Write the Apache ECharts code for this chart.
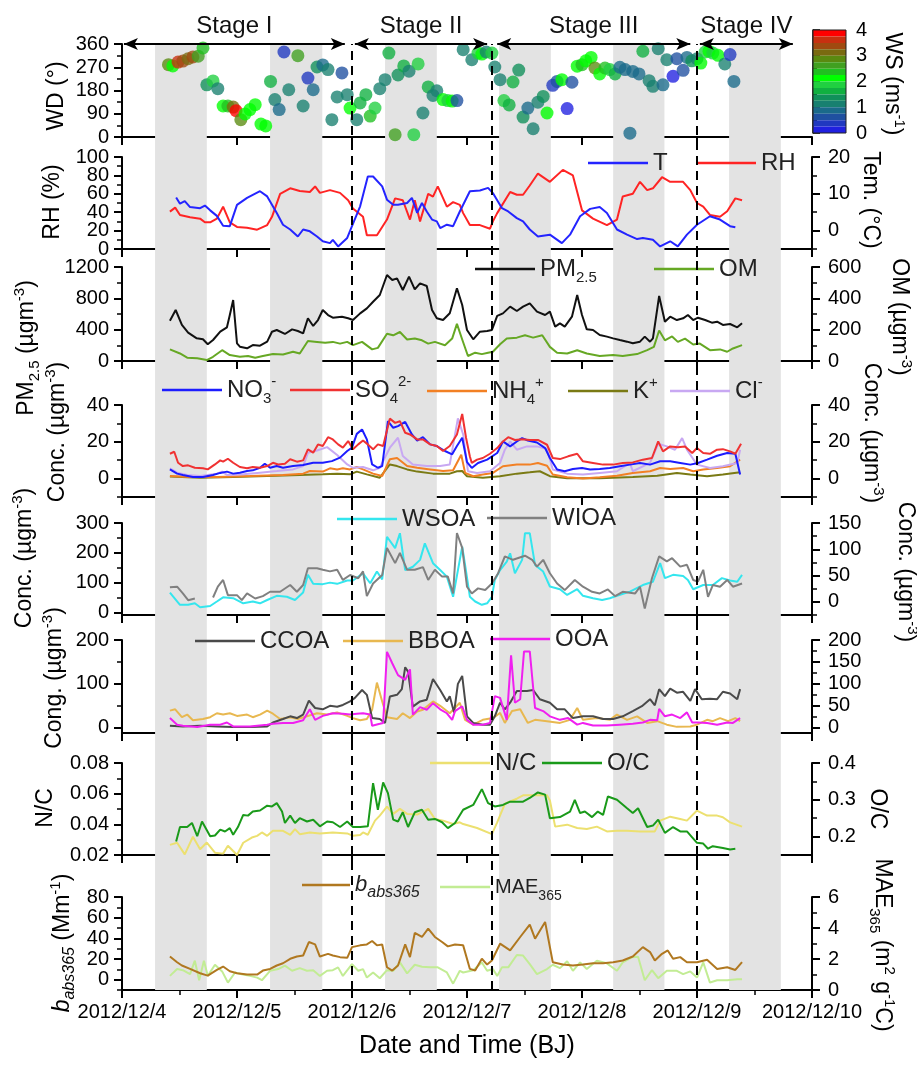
<!DOCTYPE html>
<html>
<head>
<meta charset="UTF-8">
<title>Stage time series</title>
<script src="https://cdn.jsdelivr.net/npm/echarts@6/dist/echarts.min.js"></script>
<style>
html, body { margin: 0; padding: 0; background: #fff; }
#chart { width: 917px; height: 1067px; }
</style>
</head>
<body>
<div id="chart"></div>
<script type="text/javascript">
// time is in hours since 2012/12/4 00:00 (BJ)
var windData = [ // [hour, WD, WS]
  [9.7,280,3.0],[10.6,275,2.1],[11.7,290,3.6],[12.7,294,3.4],[13.8,303,3.1],[14.8,310,3.4],[15.9,313,2.6],[16.9,345,2.4],
  [17.7,202,1.4],[19.0,217,1.8],[20.0,187,1.1],[21.1,120,2.1],[22.1,120,2.4],[23.2,116,3.1],[23.8,102,3.9],[24.8,67,3.0],
  [25.7,89,2.1],[26.7,106,2.1],[27.8,125,2.1],[29.0,50,2.1],[30.0,43,2.1],[31.0,215,1.6],[31.9,145,1.1],[32.8,106,0.9],
  [33.8,329,0.4],[34.8,183,1.1],[36.7,315,2.6],[37.8,120,1.1],[38.8,228,0.4],[39.9,183,0.9],[40.7,271,1.4],[41.9,279,0.9],
  [43.0,261,1.1],[43.8,67,1.1],[44.9,155,1.1],[45.9,248,0.6],[47.0,164,1.1],[47.6,112,2.1],[49.0,67,1.1],[49.7,132,1.6],
  [50.9,164,1.6],[51.8,81,2.4],[52.8,112,1.8],[53.8,187,1.1],[54.9,222,1.1],[55.7,325,1.6],[57.0,9,2.6],[57.6,240,1.4],
  [58.8,275,1.6],[59.9,255,1.1],[60.9,9,1.8],[61.8,283,1.8],[62.8,93,1.1],[63.9,194,1.6],[64.9,161,1.1],[65.7,179,1.1],
  [67.0,145,2.1],[68.0,141,1.8],[68.9,139,2.1],[69.9,141,0.6],[71.2,338,1.1],[73.0,299,1.1],[74.3,325,1.8],[75.1,321,2.1],
  [76.0,329,1.1],[77.2,325,1.8],[77.8,271,1.1],[78.9,222,1.1],[79.7,141,1.8],[80.8,124,1.6],[81.6,213,1.6],[82.8,259,1.4],
  [83.7,77,1.4],[84.7,112,0.9],[85.8,32,1.1],[86.8,135,1.1],[87.9,157,1.4],[88.7,93,2.1],[89.9,200,0.4],[90.8,215,0.6],
  [91.8,222,2.1],[92.9,110,0.1],[93.9,212,0.6],[95.0,274,2.1],[96.0,280,2.4],[96.8,295,2.1],[97.9,308,2.1],[98.7,267,2.9],
  [99.7,244,2.1],[100.8,267,2.4],[101.8,261,1.8],[102.9,244,1.6],[103.9,270,0.9],[105.0,261,0.9],[106.0,15,0.9],[106.6,254,0.9],
  [107.9,244,0.9],[108.7,332,1.6],[110.0,218,1.1],[110.8,196,1.1],[111.9,342,1.1],[112.9,202,0.9],[113.7,299,1.1],[115.0,235,0.1],
  [115.8,303,0.6],[117.1,258,0.6],[117.9,308,0.9],[118.9,295,1.4],[120.0,303,1.1],[120.8,286,2.1],[121.7,329,1.8],[122.5,332,2.1],
  [123.3,325,1.8],[124.4,316,2.1],[125.8,283,1.1],[126.9,319,0.4],[127.7,215,0.9]
];
var rh = [[10.0,40.6],[11.1,45],[12.1,37],[14.2,34.5],[16.3,33],[17.3,29],[18.4,29],[19.8,33],[21.1,46],[22.5,29],[24.0,24],[26.1,23],
  [28.2,21],[30.3,26],[31.3,35],[33.0,60],[35.1,66],[37.1,63],[39.2,62],[40.3,68],[41.3,61],[43.4,64],[45.5,61],[47.2,53],[48.2,44],
  [50.3,35],[51.1,15],[53.2,15],[55.3,32],[57.0,55],[58.6,53],[60.1,32],[61.1,53],[62.2,30],[63.9,60],[64.9,57],[65.9,68],[67.8,46],
  [69.1,51],[70.5,48],[71.2,39],[72.6,26],[74.7,26],[76.8,22],[77.4,30],[78.3,39],[81.0,62],[82.4,59],[83.7,59],[85.1,69],[86.8,82],
  [89.3,73],[92.0,86],[94.1,80],[96.0,42],[98.3,33],[101.2,26],[103.3,32],[104.5,57],[106.6,60],[108.1,73],[109.6,64],[110.8,66],
  [112.7,78],[114.4,73],[117.1,73],[118.6,64],[120.0,50],[121.3,46],[122.7,37],[124.8,35],[126.3,41],[128.0,55],[129.4,53]];
var temp = [[11.3,9.0],[12.1,7.3],[13.1,8],[14.2,6.4],[16.3,6.1],[17.3,6.8],[18.4,5.5],[19.8,4],[21.1,1.3],[22.5,1.2],[24.0,7],[26.1,8.9],
  [28.8,10.7],[30.3,9.3],[32.3,4.8],[33.6,1.6],[35.1,0.3],[36.7,-1.6],[37.8,0.3],[39.2,-0.2],[40.7,-1.6],[41.9,-2.9],[43.4,-3.4],[44.0,-2.5],
  [45.1,-4.3],[47.0,-2],[48.0,1.2],[49.7,6.6],[51.3,14.7],[52.4,14.7],[54.3,12],[55.3,8.4],[56.6,7],[57.6,7],[59.5,7.5],[60.5,8.9],
  [61.6,4.8],[62.6,7.5],[63.6,5.2],[64.7,3],[65.7,2.5],[66.4,0.7],[67.8,1.6],[69.1,1.2],[70.5,5.2],[72.6,10.7],[74.7,10.9],[76.4,11.6],
  [77.4,10.2],[79.3,6.1],[80.6,5.2],[82.4,3.4],[83.7,2.5],[85.1,0.3],[86.8,-1.6],[89.3,-1.1],[91.8,-3.4],[93.5,-1.1],[95.6,3.9],[97.7,5.9],
  [99.7,6.4],[101.2,4.8],[103.3,0.3],[105.4,-1.1],[107.5,-2.3],[108.7,-2],[110.8,-2.5],[112.3,-4.3],[114.4,-2.9],[116.0,-4.3],[117.9,-1.1],
  [120.0,1.6],[122.7,3.9],[124.8,3],[126.9,1.2],[128.0,0.9]];
var pm25 = [[10.0,515],[11.2,651],[12.5,460],[13.8,362],[15.6,289],[16.9,277],[17.9,213],[19.0,268],[20.5,374],[21.9,430],[22.5,587],
  [23.2,779],[24.0,225],[24.6,183],[26.1,162],[27.3,204],[28.8,196],[30.3,247],[31.3,374],[32.3,396],[34.0,345],[35.5,404],[36.7,383],
  [37.8,353],[38.8,545],[39.9,447],[40.9,523],[41.9,651],[43.0,587],[44.0,553],[45.9,566],[47.2,545],[48.2,523],[49.7,608],[51.1,672],
  [52.4,757],[53.8,843],[55.3,1098],[56.4,1034],[57.4,1055],[58.6,906],[59.9,1077],[61.1,915],[62.2,991],[63.6,957],[64.7,651],[65.7,545],
  [67.0,523],[68.4,610],[69.9,928],[71.0,715],[72.0,396],[73.3,277],[74.7,374],[76.2,383],[77.2,396],[78.3,575],[79.5,608],[81.0,694],
  [82.4,638],[83.7,694],[85.1,736],[86.6,630],[88.3,587],[89.3,630],[90.4,438],[91.4,481],[92.4,438],[93.9,566],[95.0,843],[96.0,587],
  [97.0,404],[98.3,396],[99.7,332],[101.2,311],[102.5,289],[103.9,268],[105.4,247],[106.6,226],[108.1,247],[109.1,311],[110.2,247],
  [110.8,289],[112.1,830],[113.3,502],[114.4,566],[115.8,523],[117.1,545],[118.1,587],[119.2,523],[120.2,553],[121.7,523],[123.1,489],
  [124.2,502],[125.4,460],[126.9,472],[128.4,430],[129.4,481]];
var om = [[10.0,74],[12.1,48],[13.6,21],[15.7,17],[17.7,6],[19.0,27],[20.9,69],[22.5,38],[24.6,27],[26.3,32],[27.8,21],[29.4,32],[31.5,44],
  [33.6,42],[35.7,59],[37.1,48],[38.8,128],[40.7,122],[42.4,116],[44.0,122],[45.5,111],[47.0,122],[48.2,101],[50.1,122],[52.2,74],[53.4,84],
  [55.3,174],[56.6,164],[58.0,185],[59.5,137],[61.1,143],[62.6,132],[63.9,111],[65.3,122],[67.4,101],[68.9,143],[69.9,237],[71.0,137],
  [72.2,32],[73.7,53],[75.1,44],[76.4,53],[77.4,59],[78.9,107],[80.3,143],[82.4,149],[84.1,164],[85.8,149],[87.7,164],[89.3,90],[90.8,53],
  [92.9,48],[95.0,69],[97.0,48],[99.7,32],[102.5,38],[104.5,32],[107.5,44],[109.6,69],[111.0,90],[112.1,195],[113.3,132],[114.8,157],
  [116.0,122],[117.5,143],[119.2,105],[120.6,111],[122.7,69],[124.8,74],[126.3,59],[127.5,80],[129.4,101]];
var no3 = [[10.0,5],[11.5,2.7],[12.7,2],[14.8,0.9],[16.9,0.9],[19.0,2],[20.5,3.1],[21.9,3.8],[23.2,2.7],[24.6,3.2],[26.1,4.1],[27.3,4.5],
  [28.8,5.9],[29.8,8.1],[30.9,5.9],[32.3,6.8],[33.6,5.9],[35.7,6.8],[37.8,7.4],[39.9,8.6],[41.9,8.6],[43.8,9.5],[45.5,11.4],[47.0,15],
  [48.0,16.8],[49.0,24.3],[50.1,26.7],[51.1,21.3],[52.2,7.7],[53.4,5.9],[54.3,6.8],[55.5,31.2],[56.6,27.6],[57.6,28.5],[59.1,30.8],
  [60.5,24],[61.6,20.7],[62.8,22.5],[64.3,18.6],[65.7,17.7],[67.4,15],[68.9,13.2],[69.9,17.7],[71.0,22.2],[72.0,9],[73.0,5.8],[74.3,8.5],
  [76.2,10.3],[78.3,13.9],[79.5,20.2],[81.0,17.5],[82.4,20.2],[83.5,22],[84.7,20.7],[86.6,19.6],[88.3,16.6],[89.3,11.2],[90.8,4.9],
  [92.4,4],[94.1,5.2],[96.0,5.8],[97.7,4.9],[99.7,5.2],[101.8,5.8],[103.9,6.7],[106.0,7.6],[108.1,8.5],[110.2,7.6],[112.3,9.4],[114.4,9.4],
  [116.5,8.5],[118.6,7.6],[120.2,8.5],[122.1,10.3],[124.2,12.4],[126.3,13.9],[128.0,13.5],[129.0,2.2]];
var so4 = [[10.0,13.5],[10.9,14.6],[11.7,8.6],[12.7,6.8],[13.8,7.2],[15.2,5.9],[16.9,5.6],[17.9,5],[19.4,7.7],[20.5,9.9],[21.1,9.2],
  [22.1,10.8],[23.2,8.6],[24.6,6.3],[26.1,5.6],[27.3,6.3],[28.8,5.9],[30.3,6.8],[31.5,8.6],[32.6,7.7],[34.0,8.1],[35.1,10.5],[36.5,9.2],
  [37.8,9.9],[38.8,15.9],[39.9,14.1],[40.9,18.6],[41.9,17.7],[43.0,22.5],[44.0,21.3],[45.1,18.6],[46.1,16.8],[47.2,20.4],[48.2,15.9],
  [49.3,18.6],[50.3,20.7],[51.3,18.6],[52.4,15.9],[53.4,18.6],[54.5,17.7],[55.9,32.6],[57.0,30.3],[58.0,31.2],[59.1,24.9],[60.1,24],
  [61.6,21.3],[62.8,21.3],[64.3,18.6],[65.7,17.7],[67.0,15],[68.4,17.7],[69.9,24],[71.0,35.1],[71.8,22.2],[72.6,12],[73.0,8.5],[74.1,10.3],
  [75.3,11.2],[76.8,13.5],[78.3,16.6],[79.5,20.2],[80.6,22.5],[82.0,21],[83.5,21.4],[85.1,21],[86.8,21],[88.7,18.4],[89.9,11.2],[91.4,10.6],
  [93.1,12.1],[95.0,13.5],[96.2,9.4],[98.3,8.5],[100.4,7.6],[102.5,7.6],[104.5,8.5],[106.6,8.8],[108.7,10.3],[110.6,11.2],[111.9,20.2],
  [112.9,14.8],[114.4,17.5],[116.0,17.1],[117.5,17.5],[119.0,13.9],[120.0,16.6],[121.3,13.9],[122.7,13.5],[124.2,15.7],[125.4,16],
  [126.9,14.8],[128.0,13.5],[129.2,18.9]];
var nh4 = [[10.0,1.4],[14.2,0.9],[19.8,0.9],[26.7,1.4],[33.6,2],[37.8,2.7],[39.2,4.1],[41.9,3.8],[43.4,5.6],[44.9,5],[46.1,5.6],[47.6,5],
  [49.0,6.3],[50.3,5],[52.4,2.7],[54.3,1.4],[55.9,10.5],[57.4,11.2],[59.5,6.8],[61.6,5.9],[64.3,5],[67.0,4.1],[69.1,4.5],[70.8,13],
  [71.6,3.1],[73.3,1.3],[75.3,2.2],[77.4,3.1],[79.5,6.7],[82.4,7.6],[85.1,7.6],[86.8,8.5],[88.7,7],[89.9,2.2],[92.9,0.7],[96.2,0],
  [99.7,0.7],[103.3,1.6],[106.6,3.1],[110.2,4],[112.3,5.8],[114.4,5.2],[117.1,5.8],[119.2,4],[121.3,4.9],[124.2,5.8],[126.9,6.7],[129.0,10.3]];
var kIon = [[10.0,1.1],[16.3,0.5],[23.2,0.9],[30.3,1.4],[37.1,2],[41.9,2.3],[44.9,2.7],[47.6,2.3],[49.0,3.8],[51.1,2.3],[53.8,0.5],
  [55.9,7.7],[57.4,6.8],[59.5,5],[61.6,3.8],[64.9,2.7],[68.4,2.7],[69.9,4],[71.0,4.1],[72.0,1.3],[75.3,0.4],[78.9,1.3],[82.4,2.7],
  [85.1,3.4],[87.2,4],[89.3,1.3],[92.9,0.2],[99.7,0.2],[106.6,0.9],[111.7,1.6],[115.8,3.1],[118.6,2.2],[122.1,1.3],[125.4,2.2],[129.0,3.4]];
var cl = [[10.0,5.6],[11.5,3.2],[13.6,2],[16.3,1.4],[19.8,2.7],[20.9,3.8],[21.9,2],[25.3,2.3],[28.8,3.2],[32.3,4.1],[35.7,5],[37.8,6.8],
  [38.8,14],[40.7,15.3],[42.8,17.1],[44.9,12.8],[47.0,7.7],[48.2,5.9],[50.3,6.3],[52.4,4.5],[53.8,5.9],[55.9,16.8],[57.6,22.2],[58.6,12.3],
  [60.7,7.7],[63.6,6.8],[66.4,6.8],[68.4,7.7],[70.1,32.7],[71.2,24],[72.2,4],[74.1,3.1],[76.8,4],[78.9,8.5],[79.9,15.7],[81.0,20.2],
  [82.4,15.7],[84.5,17.5],[86.6,17.5],[88.7,16],[89.9,4.9],[92.9,2.7],[96.2,2.2],[99.7,3.1],[103.3,4],[106.0,8.5],[106.6,4],[110.2,8.5],
  [111.9,18.9],[113.7,17.5],[115.4,15.7],[116.9,22],[117.9,15.7],[120.0,7.6],[122.7,5.8],[125.4,6.7],[128.4,8.5],[129.0,15.7]];
var wsoa = [[10.0,68],[12.1,27],[13.8,27],[15.2,32],[16.3,19],[18.4,23],[19.8,38],[21.1,52],[23.2,49],[25.3,32],[27.3,38],[28.8,32],
  [30.3,43],[32.3,57],[34.4,54],[36.1,43],[37.8,68],[38.8,127],[39.9,97],[41.9,96],[43.4,101],[44.9,97],[47.0,108],[48.2,108],[50.3,132],
  [51.8,99],[53.2,138],[54.3,112],[55.3,254],[57.0,216],[58.0,266],[59.1,143],[60.7,154],[62.2,177],[63.2,232],[64.9,166],[66.4,143],
  [67.8,121],[69.1,54],[71.0,221],[71.6,160],[72.6,54],[73.7,38],[75.1,27],[76.2,32],[77.2,54],[77.8,110],[78.9,143],[80.3,171],
  [81.0,199],[82.0,132],[83.5,177],[84.1,266],[85.1,266],[86.2,160],[87.9,138],[89.3,88],[91.4,79],[92.9,60],[95.0,79],[96.2,57],
  [98.3,49],[100.2,43],[101.8,49],[103.3,57],[106.0,71],[108.7,93],[110.8,104],[112.3,166],[113.3,116],[115.0,127],[117.1,123],
  [118.1,110],[119.2,79],[121.3,93],[123.3,93],[125.2,116],[126.9,108],[128.4,104],[129.4,127]];
var wioa = [[10.0,27.6],[11.5,28.8],[12.7,16],[13.8,3.2],[15.2,6.4],[16.0,null],[19.0,8.3],[20.0,28.8],[21.1,41.7],[22.1,12.8],[24.0,12.8],
  [25.0,3.2],[26.1,16],[27.8,6.4],[29.4,10.9],[30.9,19.2],[33.0,19.2],[35.1,32],[36.5,19.2],[37.8,32],[38.8,64],[40.7,64],[41.9,61],
  [43.4,58],[44.9,61],[46.1,41.7],[47.6,51],[49.3,45],[50.3,58],[51.1,10.9],[52.4,35],[54.3,51],[55.3,102.6],[57.0,73.7],[58.0,93],
  [59.5,61],[61.1,61],[62.8,66],[63.9,41.7],[65.3,61],[66.8,48],[68.0,48],[69.1,16],[69.9,131],[71.0,102.6],[72.0,28.8],[73.0,16],
  [74.3,25.6],[75.8,22.4],[77.2,35],[78.5,54.5],[79.9,86.5],[81.6,80],[84.1,87.8],[85.6,80],[86.6,67],[87.9,80],[89.3,54.5],[90.8,35],
  [92.4,22.4],[94.5,41.7],[96.2,28.8],[98.1,19.2],[99.7,16],[101.4,23.7],[102.9,10.9],[104.5,19.2],[107.1,16],[108.1,28.8],[109.1,-12.8],
  [110.6,45],[112.1,86.5],[113.7,77],[114.8,83],[116.5,67],[117.9,70.5],[119.2,41.7],[120.2,38.5],[121.3,61],[122.3,9.6],[123.3,32],
  [124.8,28.8],[126.3,41.7],[127.5,28.8],[129.4,35]];
var ccoa = [[10.0,4.5],[12.7,3],[16.3,4.5],[19.8,3],[23.2,1.5],[26.7,1.5],[30.3,3],[31.5,12],[33.6,20],[35.1,26],[36.5,22],[37.8,30],
  [39.0,62],[40.3,45],[41.9,42],[43.4,50],[44.9,48],[46.1,52],[47.6,60],[48.6,68],[50.1,86],[51.1,75],[52.2,22],[53.8,20],[54.9,11],
  [55.9,71],[57.4,75],[58.4,88],[59.1,138],[59.7,128],[60.7,48],[62.2,60],[63.6,64],[64.9,111],[66.4,86],[67.8,60],[68.4,72],[69.3,35],
  [70.1,100],[71.0,118],[72.0,26],[73.3,11],[75.3,7],[76.8,7],[77.8,26],[78.9,57],[79.9,42],[81.0,57],[82.4,84],[84.5,84],[85.8,86],
  [87.2,65],[89.3,57],[90.8,42],[92.4,42],[94.1,22],[96.2,26],[98.3,26],[100.4,20],[102.5,20],[104.5,26],[106.6,38],[108.5,49],
  [110.2,65],[111.2,51],[112.1,88],[113.3,72],[114.4,89],[115.8,80],[117.1,82],[118.6,61],[119.6,88],[121.0,65],[122.7,66],[124.2,65],
  [125.4,82],[126.9,78],[128.4,65],[129.0,88]];
var bboa = [[10.0,39],[11.1,42],[12.5,24],[13.6,30],[14.8,17],[16.9,20],[18.4,24],[19.8,33],[21.1,30],[22.5,33],[24.0,27],[26.1,30],
  [27.3,24],[28.8,30],[30.3,39],[31.5,32],[33.0,20],[35.1,24],[36.7,20],[38.6,26],[40.7,33],[42.8,30],[44.9,35],[47.0,27],[48.2,22],
  [49.7,17],[51.1,20],[52.2,41],[53.2,103],[54.3,60],[55.3,24],[57.4,20],[58.6,33],[60.1,22],[61.6,37],[62.8,41],[64.9,60],[66.4,50],
  [68.4,33],[70.5,57],[71.6,18],[73.3,7],[75.3,18],[77.4,22],[78.9,34],[79.9,11],[81.4,38],[83.1,42],[84.7,11],[86.2,18],[88.7,15],
  [91.4,11],[93.5,18],[95.0,45],[96.2,18],[99.1,22],[101.8,18],[103.3,30],[105.4,18],[107.5,26],[109.6,11],[111.7,15],[113.7,7],
  [115.8,2],[118.6,3],[120.0,7],[122.1,18],[123.3,15],[124.8,22],[126.5,15],[128.0,22],[129.0,15]];
var ooa = [[10.0,22],[11.5,7],[12.7,4.5],[15.7,1.5],[18.4,7],[20.5,7],[21.9,12],[23.2,3],[26.7,3],[30.3,7],[31.5,9],[33.6,11],[35.7,11],
  [37.8,17],[39.2,42],[40.3,18],[41.9,27],[44.0,33],[46.1,32],[47.6,30],[49.0,32],[50.3,33],[51.8,30],[52.2,4.5],[53.8,9],[54.5,11],
  [55.3,173],[56.4,147],[57.6,120],[59.1,109],[60.1,133],[60.7,30],[62.2,47],[63.6,41],[64.9,56],[66.4,42],[67.8,33],[68.9,18],[69.5,38],
  [71.0,49],[72.0,18],[73.3,7],[75.3,7],[76.8,11],[77.8,72],[78.9,68],[80.3,18],[81.2,165],[82.0,57],[83.1,65],[83.9,174],[85.1,174],
  [86.2,45],[87.9,38],[89.3,26],[91.4,18],[93.1,22],[95.0,7],[96.2,11],[98.3,5],[101.2,5],[103.9,7],[106.6,9],[108.7,12],[110.2,18],
  [111.7,17],[112.1,43],[113.3,26],[114.8,30],[116.5,22],[117.9,35],[119.0,12],[120.2,12],[122.1,11],[124.2,7],[126.3,12],[127.5,11],
  [129.0,22]];
var nc = [[10.0,0.0266],[11.5,0.028],[13.1,0.0204],[14.8,0.0319],[16.3,0.0237],[17.7,0.0281],[19.4,0.0215],[21.1,0.0209],[22.1,0.026],
  [23.2,0.0226],[24.0,0.02],[25.3,0.028],[27.1,0.0314],[28.2,0.0325],[29.2,0.0347],[30.3,0.0325],[31.5,0.0358],[33.6,0.0358],[35.1,0.0332],
  [36.1,0.0369],[37.1,0.0336],[39.2,0.0347],[41.3,0.0341],[44.0,0.0347],[47.0,0.0341],[48.2,0.0325],[49.7,0.033],[50.3,0.0347],
  [51.3,0.0332],[52.8,0.0424],[53.8,0.0457],[55.3,0.0516],[56.6,0.0468],[58.0,0.0501],[59.5,0.0468],[61.6,0.0464],[63.9,0.0501],
  [65.3,0.0435],[67.0,0.0424],[69.1,0.0402],[70.5,0.0413],[71.2,0.0402],[74.1,0.0376],[77.2,0.0336],[78.3,0.0413],[79.9,0.0534],
  [82.4,0.0567],[83.7,0.0589],[85.8,0.0589],[88.7,0.0589],[89.3,0.0556],[90.4,0.0385],[92.9,0.0398],[95.0,0.0376],[97.0,0.0369],
  [99.1,0.0385],[101.2,0.0354],[103.3,0.0358],[105.4,0.0358],[108.1,0.0354],[110.2,0.0354],[111.2,0.0354],[112.3,0.0424],[114.4,0.045],
  [116.5,0.0435],[117.9,0.0424],[120.0,0.049],[122.1,0.0457],[124.2,0.0457],[125.4,0.0446],[126.9,0.0413],[129.4,0.0385]];
var oc = [[11.3,0.187],[12.1,0.226],[13.6,0.226],[14.6,0.237],[15.7,0.201],[16.7,0.241],[18.4,0.201],[19.4,0.203],[20.5,0.219],[21.5,0.214],
  [22.5,0.223],[23.2,0.205],[24.2,0.226],[25.3,0.259],[26.3,0.257],[27.3,0.268],[28.8,0.271],[30.3,0.284],[31.3,0.282],[32.3,0.291],
  [33.4,0.268],[34.0,0.237],[35.1,0.257],[36.1,0.237],[37.1,0.25],[38.6,0.241],[39.9,0.246],[41.3,0.228],[42.8,0.241],[44.0,0.239],
  [45.5,0.226],[47.0,0.241],[48.2,0.226],[49.7,0.226],[51.3,0.228],[52.4,0.345],[53.4,0.273],[54.5,0.347],[55.5,0.318],[56.6,0.246],
  [57.6,0.241],[58.6,0.266],[59.7,0.226],[61.1,0.266],[62.6,0.273],[63.9,0.246],[65.3,0.248],[66.8,0.239],[68.0,0.223],[69.5,0.237],
  [71.2,0.273],[73.3,0.286],[75.1,0.329],[76.4,0.291],[77.8,0.282],[79.5,0.286],[81.0,0.295],[83.7,0.295],[85.1,0.305],[86.8,0.32],
  [88.3,0.314],[89.3,0.25],[91.4,0.253],[93.5,0.268],[94.5,0.3],[95.6,0.264],[96.6,0.268],[98.1,0.253],[99.3,0.268],[100.4,0.259],
  [101.4,0.309],[103.3,0.3],[105.4,0.277],[106.6,0.264],[107.7,0.277],[109.6,0.226],[110.8,0.23],[111.9,0.246],[113.3,0.21],[115.0,0.226],
  [116.5,0.214],[117.9,0.214],[120.0,0.183],[121.3,0.181],[122.3,0.167],[123.3,0.174],[125.4,0.169],[126.9,0.165],[128.0,0.167]];
var babs = [[10.0,22.4],[11.5,16.9],[12.5,13.7],[14.2,10.4],[16.3,6.2],[17.9,3.9],[19.8,9.4],[21.1,12.7],[22.5,8.1],[24.0,6.2],[26.1,4.9],
  [28.2,4.9],[29.4,8.8],[30.9,10.4],[32.3,13.7],[33.6,15.9],[35.1,20.2],[36.5,22.4],[37.8,23.4],[39.0,36.4],[40.3,34.1],[41.3,22.4],
  [43.0,25],[44.0,23.4],[45.5,21.8],[47.0,21.1],[48.0,31.5],[49.7,33.2],[51.1,34.1],[52.2,37.4],[53.2,33.2],[54.3,34.1],[55.3,12],
  [56.4,8.8],[57.6,13.7],[59.1,34.1],[60.1,21.8],[61.1,45.2],[62.6,41.3],[63.9,49.4],[65.3,41.3],[66.8,36.4],[68.0,32.2],[69.5,34.1],
  [71.2,33.2],[72.6,10.4],[73.7,8.8],[75.1,20.2],[76.2,14.6],[77.2,18.5],[78.9,34.8],[81.0,28.3],[83.1,41.3],[85.1,53.3],[86.2,39.7],
  [88.3,55.9],[89.9,16.9],[92.0,14.6],[94.1,13.7],[96.2,14.6],[98.3,15.9],[100.4,15.9],[102.5,16.9],[104.5,18.5],[106.6,22.4],[108.7,31.5],
  [110.2,26.7],[111.2,18.5],[112.7,25],[113.9,28.3],[115.0,20.2],[116.5,21.8],[117.9,16.9],[120.0,16.9],[122.1,19.2],[124.2,10.4],
  [126.3,12],[128.0,9.4],[129.4,16.9]];
var mae = [[10.0,0.91],[11.5,1.35],[12.7,1.28],[14.2,1.02],[15.2,1.89],[16.1,0.63],[17.1,1.89],[17.9,0.91],[19.4,1.63],[20.9,1.2],
  [22.1,0.48],[23.6,1.13],[25.0,1.02],[26.7,0.91],[28.2,0.8],[29.2,0.63],[30.9,1.24],[32.6,1.35],[34.0,1.57],[35.5,1.24],[37.1,1.41],
  [38.6,1.24],[39.9,1.28],[41.3,0.91],[42.8,1.24],[44.0,1.28],[45.1,1.46],[46.1,0.91],[48.0,1.67],[49.3,1.24],[50.3,1.35],[51.1,0.8],
  [52.4,1.13],[53.8,0.76],[55.3,1.28],[56.6,1.24],[58.0,1.78],[59.5,1.07],[61.1,1.63],[62.6,1.5],[64.3,1.46],[65.9,1.46],[67.8,1.13],
  [69.1,0.41],[70.5,1.24],[71.2,1.13],[73.3,1.28],[75.1,1.78],[76.2,1.24],[77.4,1.35],[78.3,0.91],[79.3,1.46],[80.6,1.46],[82.4,2.26],
  [83.7,2.22],[85.1,1.67],[86.6,1.02],[88.7,1.35],[89.9,1.63],[91.4,1.41],[92.9,1.85],[94.1,1.24],[95.6,1.78],[97.0,1.35],[99.1,1.89],
  [101.2,1.72],[103.3,1.24],[104.5,1.78],[106.4,2.11],[107.7,2.15],[109.1,0.63],[110.6,1.28],[111.9,0.76],[113.7,1.24],[115.8,1.24],
  [117.1,1.02],[118.6,1.2],[120.0,0.8],[121.3,1.78],[122.7,0.48],[124.2,0.63],[126.3,0.63],[128.4,0.7],[129.4,0.7]];

var daylight = [[6.9,17.7],[30.9,41.8],[54.9,65.7],[78.7,89.5],[102.5,113.2],[126.7,137.5]];
var stageBreaks = [48, 77.2, 120];
var stageNames = ['Stage I', 'Stage II', 'Stage III', 'Stage IV'];
var stageSpans = [[0.4,46.5],[48.6,76.2],[78.3,118.6],[120.6,140]];
var dayLabels = ['2012/12/4','2012/12/5','2012/12/6','2012/12/7','2012/12/8','2012/12/9','2012/12/10'];
var wsColors = ['#2020e0','#2038c0','#1f50a0','#1a6a8a','#188070','#10905a','#10b040','#20d040',
  '#00ff00','#20c020','#40a020','#5a8a10','#7a6a10','#a04a10','#c83010','#ff0000'];

var FONT = "'Liberation Sans', Arial, sans-serif";
var panelTop = [44, 157, 267, 405, 523, 640, 763, 897];
var panelBottom = [137, 249, 361, 497, 615, 733, 855, 990];

var grids = [], xAxes = [], yAxes = [];
for (var i = 0; i < 8; i++) {
  grids.push({left: 122, right: 105, top: panelTop[i], height: panelBottom[i] - panelTop[i]});
  xAxes.push({
    type: 'value', gridIndex: i, min: 0, max: 144, interval: 24, position: 'bottom',
    axisLine: {onZero: false, lineStyle: {color: '#000', width: 2}},
    axisTick: {length: 8, lineStyle: {color: '#000', width: 2}},
    minorTick: {show: true, splitNumber: 2, length: 5, lineStyle: {color: '#000', width: 1.5}},
    splitLine: {show: false},
    axisLabel: {show: i === 7, fontSize: 20, color: '#000', margin: 12, showMinLabel: true, showMaxLabel: true,
      formatter: function (v) { return dayLabels[Math.round(v / 24)]; }},
    name: i === 7 ? 'Date and Time (BJ)' : '', nameLocation: 'middle', nameGap: 44,
    nameTextStyle: {fontSize: 25, color: '#000'}
  });
}
function labelStyle(pos, values) {
  return {customValues: values, fontSize: 20, color: '#000', margin: pos === 'left' ? 13 : 16,
    hideOverlap: false, showMinLabel: true, showMaxLabel: true, formatter: function (v) { return String(v); }};
}
// major axis (line, ticks, labels) + minor-tick axis; tightly packed labels are split over two axes
function addY(grid, pos, min, max, majors, minors, split) {
  var idx = yAxes.length;
  var shown = split ? majors.filter(function (v, k) { return k % 2 === 0; }) : majors;
  yAxes.push({type: 'value', gridIndex: grid, position: pos, min: min, max: max,
    axisLine: {show: true, onZero: false, lineStyle: {color: '#000', width: 2}},
    axisTick: {show: true, customValues: majors, length: 8, lineStyle: {color: '#000', width: 2}},
    axisLabel: labelStyle(pos, shown), splitLine: {show: false}});
  yAxes.push({type: 'value', gridIndex: grid, position: pos, min: min, max: max,
    axisLine: {show: false}, axisLabel: {show: false}, splitLine: {show: false},
    axisTick: {show: true, customValues: minors, length: 5, lineStyle: {color: '#000', width: 1.5}}});
  if (split) {
    yAxes.push({type: 'value', gridIndex: grid, position: pos, min: min, max: max,
      axisLine: {show: false}, axisTick: {show: false}, splitLine: {show: false},
      axisLabel: labelStyle(pos, majors.filter(function (v, k) { return k % 2 === 1; }))});
  }
  return idx;
}
var yWD = addY(0, 'left', 0, 360, [0, 90, 180, 270, 360], [45, 135, 225, 315]);
var yRH = addY(1, 'left', 0, 100, [0, 20, 40, 60, 80, 100], [10, 30, 50, 70, 90], true);
var yT = addY(1, 'right', -5, 20, [0, 10, 20], [-5, 5, 15]);
var yPM = addY(2, 'left', 0, 1200, [0, 400, 800, 1200], [200, 600, 1000]);
var yOM = addY(2, 'right', 0, 600, [0, 200, 400, 600], [100, 300, 500]);
var yIon = addY(3, 'left', -10, 40, [0, 20, 40], [-10, 10, 30]);
addY(3, 'right', -10, 40, [0, 20, 40], [-10, 10, 30]);
var yWS = addY(4, 'left', -7, 300, [0, 100, 200, 300], [50, 150, 250]);
var yWI = addY(4, 'right', -25, 150, [0, 50, 100, 150], [-25, 25, 75, 125]);
var yFac = addY(5, 'left', -12, 200, [0, 100, 200], [50, 150]);
addY(5, 'right', -12, 200, [0, 50, 100, 150, 200], [25, 75, 125, 175]);
var yNC = addY(6, 'left', 0.02, 0.08, [0.02, 0.04, 0.06, 0.08], [0.03, 0.05, 0.07]);
var yOC = addY(6, 'right', 0.15, 0.4, [0.2, 0.3, 0.4], [0.25, 0.35]);
var yB = addY(7, 'left', -10, 80, [0, 20, 40, 60, 80], [-10, 10, 30, 50, 70]);
var yMAE = addY(7, 'right', 0, 6, [0, 2, 4, 6], [1, 3, 5]);

// background grid for daylight bands, stage lines and arrows
grids.push({left: 122, right: 105, top: 44, bottom: 1067 - 990});
xAxes.push({type: 'value', gridIndex: 8, min: 0, max: 144, show: false});
var yBg = yAxes.length;
yAxes.push({type: 'value', gridIndex: 8, min: 0, max: 1, show: false});
// colour bar frame
grids.push({left: 813, top: 30, width: 33, height: 103, show: true, borderColor: '#222', borderWidth: 1, backgroundColor: 'transparent', z: 5});
xAxes.push({type: 'value', gridIndex: 9, min: 0, max: 1, show: false});
yAxes.push({type: 'value', gridIndex: 9, position: 'right', min: 0, max: 4, interval: 1,
  axisLine: {show: true, lineStyle: {color: '#000', width: 1.5}},
  axisTick: {length: 7, lineStyle: {color: '#000', width: 1.5}},
  minorTick: {show: true, splitNumber: 2, length: 4, lineStyle: {color: '#000'}},
  axisLabel: {fontSize: 20, color: '#000', margin: 10, hideOverlap: false, showMinLabel: true, showMaxLabel: true},
  splitLine: {show: false}});

function line(name, data, g, y, color, z) {
  return {name: name, type: 'line', data: data, xAxisIndex: g, yAxisIndex: y, symbol: 'none',
    color: color, lineStyle: {color: color, width: 2}, itemStyle: {color: color}, z: z || 2, animation: false};
}

var series = [{
  name: 'WD', type: 'scatter', data: windData, xAxisIndex: 0, yAxisIndex: yWD, symbolSize: 13,
  itemStyle: {opacity: 0.78}, encode: {x: 0, y: 1}, z: 3
}];
series.push(line('RH', rh, 1, yRH, '#ff2424'));
series.push(line('T', temp, 1, yT, '#2424ff'));
series.push(line('PM2.5', pm25, 2, yPM, '#111111'));
series.push(line('OM', om, 2, yOM, '#66a824'));
series.push(line('K+', kIon, 3, yIon, '#7a7a14'));
series.push(line('NH4+', nh4, 3, yIon, '#f28024'));
series.push(line('Cl-', cl, 3, yIon, '#c8a8f2'));
series.push(line('NO3-', no3, 3, yIon, '#1c1cff'));
series.push(line('SO42-', so4, 3, yIon, '#f03232'));
series.push(line('WSOA', wsoa, 4, yWS, '#34e6ee'));
series.push(line('WIOA', wioa, 4, yWI, '#808080'));
series.push(line('BBOA', bboa, 5, yFac, '#e8b850'));
series.push(line('CCOA', ccoa, 5, yFac, '#4a4a4a'));
series.push(line('OOA', ooa, 5, yFac, '#f020f0'));
series.push(line('N/C', nc, 6, yNC, '#ece070'));
series.push(line('O/C', oc, 6, yOC, '#1a9a1a'));
series.push(line('MAE365', mae, 7, yMAE, '#c2ec94'));
series.push(line('babs365', babs, 7, yB, '#b07820'));

series.push({type: 'line', data: [], xAxisIndex: 8, yAxisIndex: yBg, silent: true, z: -10,
  markArea: {silent: true, itemStyle: {color: '#e3e3e3'},
    data: daylight.map(function (d) { return [{xAxis: d[0]}, {xAxis: d[1]}]; })}});
// dashed stage boundaries
series.push({type: 'line', data: [], xAxisIndex: 8, yAxisIndex: yBg, silent: true, z: 20,
  markLine: {silent: true, animation: false, symbol: ['none', 'none'],
    lineStyle: {type: [9, 6], width: 2, color: '#000'}, label: {show: false},
    data: stageBreaks.map(function (h) { return {xAxis: h}; })}});
// stage arrows with labels
series.push({type: 'line', data: [], xAxisIndex: 8, yAxisIndex: yBg, silent: true, z: 20,
  markLine: {silent: true, animation: false, symbol: ['arrow', 'arrow'], symbolSize: [9, 14],
    lineStyle: {type: 'solid', width: 2, color: '#000'},
    label: {show: true, position: 'insideMiddleTop', distance: 6, formatter: '{b}', fontSize: 24, color: '#111'},
    data: stageSpans.map(function (s, k) {
      return [{coord: [s[0], 1], name: stageNames[k]}, {coord: [s[1], 1]}];
    })}});

var rich = {
  n: {fontSize: 24, lineHeight: 32, color: '#222'},
  sub: {fontSize: 15, lineHeight: 14, verticalAlign: 'bottom', color: '#222'},
  sup: {fontSize: 15, lineHeight: 14, verticalAlign: 'top', color: '#222'},
  s: {fontSize: 20, lineHeight: 32, color: '#222'},
  ssub: {fontSize: 14, lineHeight: 14, verticalAlign: 'bottom', color: '#222'},
  i: {fontSize: 22, lineHeight: 32, fontStyle: 'italic', color: '#222'},
  isub: {fontSize: 16, lineHeight: 14, verticalAlign: 'bottom', fontStyle: 'italic', color: '#222'}
};
var legendText = {
  'T': '{n|T}', 'RH': '{n|RH}', 'PM2.5': '{n|PM}{sub|2.5}', 'OM': '{n|OM}',
  'NO3-': '{n|NO}{sub|3}{sup|-}', 'SO42-': '{n|SO}{sub|4}{sup|2-}', 'NH4+': '{n|NH}{sub|4}{sup|+}',
  'K+': '{n|K}{sup|+}', 'Cl-': '{n|Cl}{sup|-}', 'WSOA': '{n|WSOA}', 'WIOA': '{n|WIOA}',
  'CCOA': '{n|CCOA}', 'BBOA': '{n|BBOA}', 'OOA': '{n|OOA}', 'N/C': '{n|N/C}', 'O/C': '{n|O/C}',
  'babs365': '{i|b}{isub|abs365}', 'MAE365': '{s|MAE}{ssub|365}'
};
var legendSpots = [
  ['T', 588, 167, 60], ['RH', 696, 167, 60], ['PM2.5', 475, 273, 60], ['OM', 654, 273, 60],
  ['NO3-', 162, 390, 60], ['SO42-', 290, 390, 60], ['NH4+', 427, 391, 60], ['K+', 568, 391, 60], ['Cl-', 670, 391, 60],
  ['WSOA', 337, 523, 60], ['WIOA', 487, 522, 60], ['CCOA', 195, 645, 60], ['BBOA', 343, 645, 60], ['OOA', 490, 643, 60],
  ['N/C', 430, 767, 60], ['O/C', 542, 767, 60], ['babs365', 302, 890, 48], ['MAE365', 440, 893, 50]
];
var legends = legendSpots.map(function (l) {
  return {data: [l[0]], left: l[1], top: l[2] - 16, padding: 0, icon: 'rect', itemWidth: l[3], itemHeight: 2.5,
    selectedMode: false, formatter: function (name) { return legendText[name]; },
    textStyle: {fontSize: 24, color: '#222', rich: rich}};
});

var titleRich = {
  t: {fontSize: 23, lineHeight: 30, fill: '#000', fontFamily: FONT},
  sub: {fontSize: 15, lineHeight: 12, verticalAlign: 'bottom', fill: '#000', fontFamily: FONT},
  sup: {fontSize: 15, lineHeight: 12, verticalAlign: 'top', fill: '#000', fontFamily: FONT},
  it: {fontSize: 23, lineHeight: 30, fontStyle: 'italic', fill: '#000', fontFamily: FONT},
  itsub: {fontSize: 16, lineHeight: 12, verticalAlign: 'bottom', fontStyle: 'italic', fill: '#000', fontFamily: FONT}
};
var unit3 = '{t| (µgm}{sup|-3}{t|)}';
var axisTitles = [
  [57, 96, '{t|WD (°)}', 1], [53, 202, '{t|RH (%)}', 1], [27, 348, '{t|PM}{sub|2.5}' + unit3, 1],
  [58, 432, '{t|Conc.}' + unit3, 1], [25, 558, '{t|Conc.}' + unit3, 1], [55, 678, '{t|Cong.}' + unit3, 1],
  [46, 808, '{t|N/C}', 1], [63, 943, '{it|b}{itsub|abs365}{t| (Mm}{sup|-1}{t|)}', 1],
  [892, 84, '{t|WS (ms}{sup|-1}{t|)}', -1], [870, 200, '{t|Tem. (°C)}', -1], [899, 317, '{t|OM}' + unit3, -1],
  [871, 433, '{t|Conc.}' + unit3, -1], [905, 572, '{t|Conc.}' + unit3, -1], [877, 809, '{t|O/C}', -1],
  [882, 945, '{t|MAE}{sub|365}{t| (m}{sup|2}{t| g}{sup|-1}{t|C)}', -1]
];
var graphics = axisTitles.map(function (a) {
  return {type: 'text', x: a[0], y: a[1], rotation: a[3] * Math.PI / 2, silent: true,
    style: {text: a[2], rich: titleRich, align: 'center', verticalAlign: 'middle', fontSize: 23, fontFamily: FONT, fill: '#000'}};
});

var chart = echarts.init(document.getElementById('chart'));
chart.setOption({
  animation: false,
  backgroundColor: '#fff',
  textStyle: {fontFamily: FONT},
  grid: grids,
  xAxis: xAxes,
  yAxis: yAxes,
  legend: legends,
  visualMap: {
    type: 'piecewise', seriesIndex: 0, dimension: 2, min: 0, max: 4, splitNumber: 16,
    orient: 'vertical', left: 813, top: 30, padding: 0, itemWidth: 33, itemHeight: 103 / 16, itemGap: 0,
    itemSymbol: 'rect', showLabel: false, selectedMode: false, hoverLink: false,
    inRange: {color: wsColors}
  },
  graphic: graphics,
  series: series
});
</script>
</body>
</html>
